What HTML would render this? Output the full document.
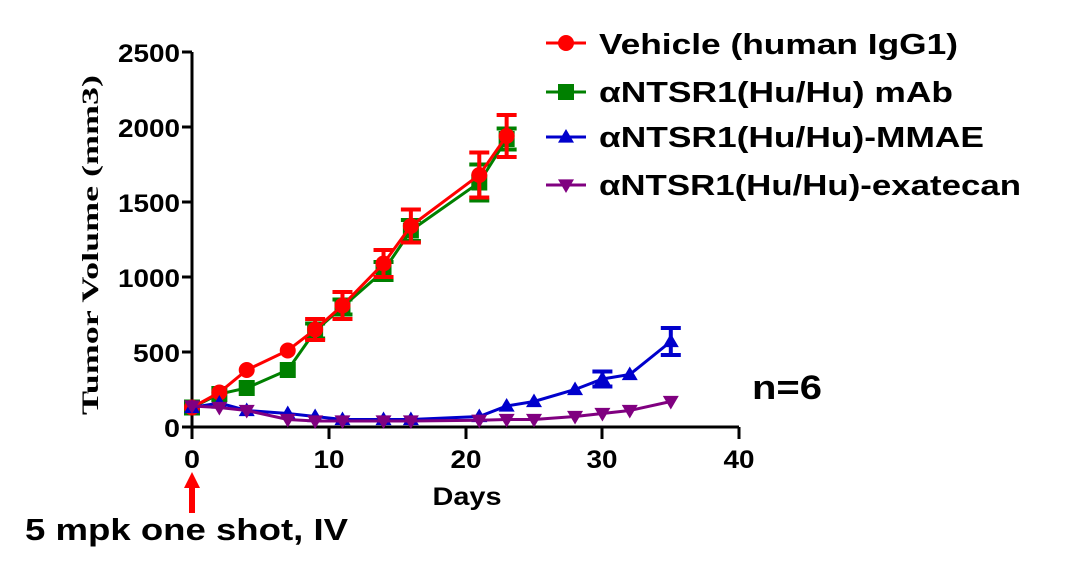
<!DOCTYPE html>
<html><head><meta charset="utf-8"><style>
body{margin:0;background:#fff;width:1080px;height:579px;overflow:hidden}
svg{display:block}
text{font-family:"Liberation Sans",sans-serif;font-weight:bold}
</style></head><body>
<svg id="s" width="1080" height="579" xmlns="http://www.w3.org/2000/svg">
<g stroke="#000" stroke-width="3" fill="none">
<path d="M192,52V427H739"/>
<path d="M182,52H192M182,127H192M182,202H192M182,277H192M182,352H192M182,427H192"/>
<path d="M192,427V439M329,427V439M466,427V439M602,427V439M739,427V439"/>
</g>
<g font-size="25" text-anchor="end">
<text x="180" y="62" textLength="62" lengthAdjust="spacingAndGlyphs">2500</text>
<text x="180" y="137" textLength="62" lengthAdjust="spacingAndGlyphs">2000</text>
<text x="180" y="212" textLength="62" lengthAdjust="spacingAndGlyphs">1500</text>
<text x="180" y="287" textLength="62" lengthAdjust="spacingAndGlyphs">1000</text>
<text x="180" y="362" textLength="47" lengthAdjust="spacingAndGlyphs">500</text>
<text x="180" y="437" textLength="16" lengthAdjust="spacingAndGlyphs">0</text>
</g>
<g font-size="25" text-anchor="middle">
<text x="192" y="468" textLength="16" lengthAdjust="spacingAndGlyphs">0</text>
<text x="329" y="468" textLength="31" lengthAdjust="spacingAndGlyphs">10</text>
<text x="466" y="468" textLength="31" lengthAdjust="spacingAndGlyphs">20</text>
<text x="602" y="468" textLength="31" lengthAdjust="spacingAndGlyphs">30</text>
<text x="739" y="468" textLength="31" lengthAdjust="spacingAndGlyphs">40</text>
<text x="467" y="505" textLength="69" lengthAdjust="spacingAndGlyphs">Days</text>
</g>
<text transform="translate(98,245) rotate(-90)" text-anchor="middle" font-size="23" textLength="340" lengthAdjust="spacingAndGlyphs" style="font-family:'Liberation Serif',serif">Tumor Volume (mm3)</text>
<text x="752" y="399" font-size="34" textLength="70" lengthAdjust="spacingAndGlyphs">n=6</text>
<text x="25" y="540" font-size="31" textLength="323" lengthAdjust="spacingAndGlyphs">5 mpk one shot, IV</text>
<path d="M192,513V484" stroke="#f00" stroke-width="6"/>
<path d="M184,488L192,472L200,488Z" fill="#f00"/>
<g id="plot"></g>
<g font-size="29">
<text x="599" y="54" textLength="359" lengthAdjust="spacingAndGlyphs">Vehicle (human IgG1)</text>
<text x="599" y="102" textLength="354" lengthAdjust="spacingAndGlyphs">αNTSR1(Hu/Hu) mAb</text>
<text x="599" y="147" textLength="385" lengthAdjust="spacingAndGlyphs">αNTSR1(Hu/Hu)-MMAE</text>
<text x="599" y="195" textLength="422" lengthAdjust="spacingAndGlyphs">αNTSR1(Hu/Hu)-exatecan</text>
</g>
<g id="leg"></g>
</svg>
<script>
var X=d=>192+d*13.68, Y=v=>427-v*0.15;
var S=[
{c:"#f00",m:"c",d:[[0,130],[2,230],[4,380],[7,510],[9,650,70],[11,810,90],[14,1090,90],[16,1340,110],[21,1680,150],[23,1940,140]]},
{c:"#008000",m:"s",d:[[0,130],[2,220],[4,260],[7,380],[9,640,50],[11,800,50],[14,1040,60],[16,1310,70],[21,1630,120],[23,1920,70]]},
{c:"#0000cc",m:"t",d:[[0,130],[2,160],[4,110],[7,90],[9,70],[11,50],[14,50],[16,50],[21,70],[23,140],[25,170],[28,250],[30,320,50],[32,350],[35,570,90]]},
{c:"#800080",m:"v",d:[[0,140],[2,130],[4,110],[7,50],[9,40],[11,40],[14,40],[16,40],[21,45],[23,50],[25,50],[28,70],[30,90],[32,110],[35,170]]}];
function mk(m,x,y,c){var r=8;
if(m=="c")return`<circle cx="${x}" cy="${y}" r="${r}" fill="${c}"/>`;
if(m=="s")return`<rect x="${x-r}" y="${y-r}" width="${2*r}" height="${2*r}" fill="${c}"/>`;
if(m=="t")return`<path d="M${x},${y-r}L${x+r},${y+r*0.7}L${x-r},${y+r*0.7}Z" fill="${c}"/>`;
return`<path d="M${x},${y+r}L${x+r},${y-r*0.7}L${x-r},${y-r*0.7}Z" fill="${c}"/>`;}
var h="";
[1,0,2,3].forEach(i=>{var s=S[i];
h+=`<polyline fill="none" stroke="${s.c}" stroke-width="3" points="${s.d.map(p=>X(p[0])+','+Y(p[1])).join(' ')}"/>`;
s.d.forEach(p=>{var x=X(p[0]),y=Y(p[1]);if(p[2]){var a=Y(p[1]+p[2]),b=Y(p[1]-p[2]);
h+=`<path d="M${x},${a}V${b}M${x-10},${a}H${x+10}M${x-10},${b}H${x+10}" stroke="${s.c}" stroke-width="4"/>`;}
h+=mk(s.m,x,y,s.c);});});
document.getElementById("plot").innerHTML=h;
var l="",ys=[43,92,137,185];
S.forEach((s,i)=>{l+=`<path d="M546,${ys[i]}H586" stroke="${s.c}" stroke-width="3"/>`+mk(s.m,566,ys[i],s.c);});
document.getElementById("leg").innerHTML=l;
</script>
</body></html>
